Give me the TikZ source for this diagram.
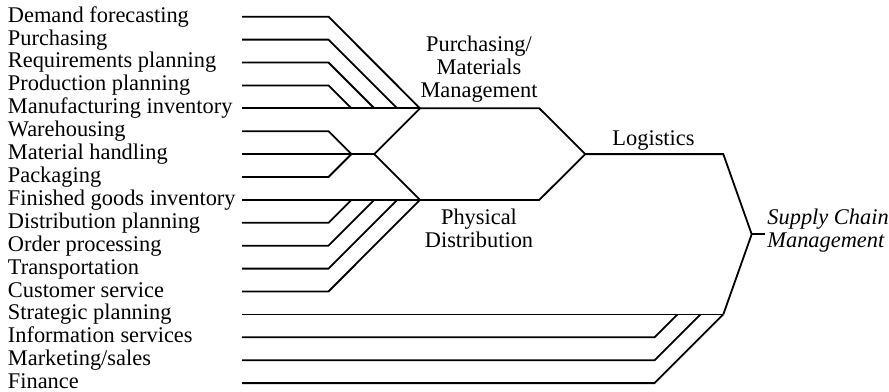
\documentclass[tikz,border=0pt]{standalone}
\usepackage{fontspec}
\setmainfont{Liberation Serif}
\usetikzlibrary{positioning,calc}
\tikzset{
  item/.style={anchor=west, inner sep=0pt, text height=7.5pt, text depth=2pt,
               font=\fontsize{11.2}{11.45}\selectfont},
  grp/.style={anchor=base, align=center, inner sep=0pt,
              font=\fontsize{11.2}{11.45}\selectfont},
  scm/.style={anchor=base west, align=left, inner sep=0pt,
              font=\fontsize{11.2}{11.45}\selectfont\itshape},
  ln/.style={line width=0.9pt, line join=miter},
}

\begin{document}
\begin{tikzpicture}[x=0.5pt,y=-0.5pt]
\useasboundingbox (0,0) rectangle (889,391);

%% =====================================================================
%% activities, one per row
%% =====================================================================
\node[item] (i0)  at (7.5, 16.7) {Demand forecasting};
\node[item] (i1)  at (7.5, 39.6) {Purchasing};
\node[item] (i2)  at (7.5, 62.5) {Requirements planning};
\node[item] (i3)  at (7.5, 85.4) {Production planning};
\node[item] (i4)  at (7.5,108.3) {Manufacturing inventory};
\node[item] (i5)  at (7.5,131.2) {Warehousing};
\node[item] (i6)  at (7.5,154.1) {Material handling};
\node[item] (i7)  at (7.5,177.0) {Packaging};
\node[item] (i8)  at (7.5,199.9) {Finished goods inventory};
\node[item] (i9)  at (7.5,222.8) {Distribution planning};
\node[item] (i10) at (7.5,245.7) {Order processing};
\node[item] (i11) at (7.5,268.6) {Transportation};
\node[item] (i12) at (7.5,291.5) {Customer service};
\node[item] (i13) at (7.5,314.4) {Strategic planning};
\node[item] (i14) at (7.5,337.3) {Information services};
\node[item] (i15) at (7.5,360.2) {Marketing/sales};
\node[item] (i16) at (7.5,383.1) {Finance};

%% junctions where the lines meet
\coordinate (pm)  at (420,108.3);
\coordinate (wh)  at (374.3,154.1);
\coordinate (pd)  at (420,199.9);
\coordinate (lg)  at (585.3,154.1);
\coordinate (lgE) at (723.3,154.1);
\coordinate (sc)  at (751.7,234.25);
\coordinate (scT) at (765,234.25);
\coordinate (scB) at (723.3,314.4);

%% =====================================================================
%% purchasing / materials management
%% =====================================================================
\draw[ln] (242,0 |- i0) -- (328.5,0 |- i0) -- (pm);
\draw[ln] (242,0 |- i1) -- (328.5,0 |- i1) -- (397.2,0 |- i4);
\draw[ln] (242,0 |- i2) -- (328.5,0 |- i2) -- (374.3,0 |- i4);
\draw[ln] (242,0 |- i3) -- (328.5,0 |- i3) -- (351.4,0 |- i4);
\draw[ln] (242,0 |- i4) -- (pm);

%% warehousing, handling, packaging feed both sides
\draw[ln] (242,0 |- i5) -- (328.5,0 |- i5) -- (351.4,0 |- i6);
\draw[ln] (242,0 |- i7) -- (328.5,0 |- i7) -- (351.4,0 |- i6);
\draw[ln] (242,0 |- i6) -- (wh);
\draw[ln] (pm) -- (wh) -- (pd);

%% =====================================================================
%% physical distribution
%% =====================================================================
\draw[ln] (242,0 |- i8)  -- (pd);
\draw[ln] (242,0 |- i9)  -- (328.5,0 |- i9)  -- (351.4,0 |- i8);
\draw[ln] (242,0 |- i10) -- (328.5,0 |- i10) -- (374.3,0 |- i8);
\draw[ln] (242,0 |- i11) -- (328.5,0 |- i11) -- (397.2,0 |- i8);
\draw[ln] (242,0 |- i12) -- (328.5,0 |- i12) -- (pd);

%% logistics and supply chain management
\draw[ln] (pm) -- (539.3,0 |- pm) -- (lg) -- (539.3,0 |- pd) -- (pd);
\draw[ln] (lg) -- (lgE) -- (sc) -- (scB);
\draw[ln] (sc) -- (scT);

\draw[ln] (242,0 |- i13) -- (scB);
\draw[ln] (242,0 |- i14) -- (654.6,0 |- i14) -- (677.5,0 |- i13);
\draw[ln] (242,0 |- i15) -- (654.6,0 |- i15) -- (700.4,0 |- i13);
\draw[ln] (242,0 |- i16) -- (654.6,0 |- i16) -- (scB);

%% labels (base is the last line)
\node[grp] (pmlbl) at (479,97)    {Purchasing/\\Materials\\Management};
\node[grp] (pdlbl) at (479,247)   {Physical\\Distribution};
\node[grp] (lglbl) at (653.5,145) {Logistics};
\node[scm] (sclbl) at (767,247)   {Supply Chain\\Management};

\end{tikzpicture}
\end{document}
